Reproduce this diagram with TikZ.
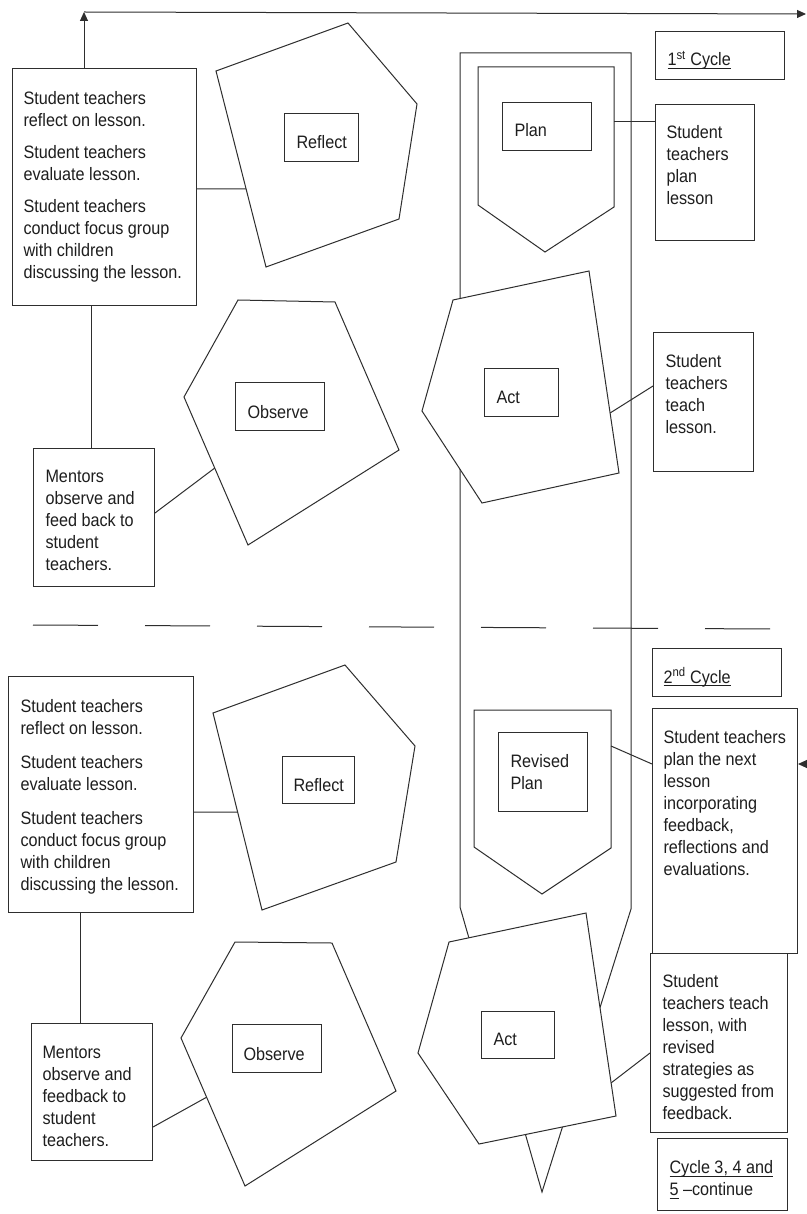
\documentclass[tikz,border=0pt]{standalone}
\usepackage{fontspec}
\setmainfont{Liberation Sans}[FakeStretch=0.9]
\usetikzlibrary{calc,arrows.meta}
\definecolor{ink}{HTML}{2E2E2E}
\definecolor{txtc}{HTML}{1E1E1E}
% underline sitting just below the baseline
\newcommand{\ulx}[1]{\setbox0\hbox{#1}\rlap{\rule[-2.8pt]{\wd0}{0.8pt}}\box0\relax}
\begin{document}
\begin{tikzpicture}[x=1pt,y=-1pt,line width=1pt,color=ink,
  box/.style={draw=ink,rectangle,inner sep=0pt,anchor=north west},
  para/.style={inner sep=0pt,anchor=north west,align=left,text=txtc,
    font=\fontsize{18}{22}\selectfont},
  lbl/.style={inner sep=0pt,anchor=base west,text=txtc,
    font=\fontsize{18}{22}\selectfont},
  poly/.style={draw=ink,fill=white,line join=miter},
  tip/.style={-{Triangle[length=9pt,width=8pt]}}]
\useasboundingbox[fill=white] (0,0) rectangle (806,1214);

% ---- the long pencil that carries the cycles ----
\draw[ink] (460,53) -- (631,53) -- (631,909) -- (542,1192) -- (460,907) -- cycle;

% ---- separator between the cycles ----
\draw[dash pattern=on 65pt off 47pt] (33,625) -- (771,629);

% ================= 1st cycle =================
% Reflect
\coordinate (r1a) at (216,71); \coordinate (r1b) at (348,23);
\coordinate (r1c) at (417,104); \coordinate (r1d) at (399,219);
\coordinate (r1e) at (266,267);
\draw[poly] (r1a) -- (r1b) -- (r1c) -- (r1d) -- (r1e) -- cycle;
\node[box,minimum width=74pt,minimum height=48pt] (lr1) at (284,113) {};
\node[lbl] (lr1t) at (296,149) {Reflect};

% Plan shield
\draw[poly] (478,67) -- (614,67) -- (614,207) -- (545,252) -- (478,205) -- cycle;
\coordinate (pl1) at (614,122);
\node[box,minimum width=89pt,minimum height=48pt] (lp1) at (502,102) {};
\node[lbl] (lp1t) at (514,137) {Plan};

% Observe
\coordinate (o1a) at (184,397); \coordinate (o1b) at (238,300);
\coordinate (o1c) at (335,302); \coordinate (o1d) at (399,450);
\coordinate (o1e) at (248,545);
\draw[poly] (o1a) -- (o1b) -- (o1c) -- (o1d) -- (o1e) -- cycle;
\node[box,minimum width=89pt,minimum height=48pt] (lo1) at (235,382) {};
\node[lbl] (lo1t) at (247,418) {Observe};

% Act
\coordinate (a1a) at (453,300); \coordinate (a1b) at (589,271);
\coordinate (a1c) at (619,473); \coordinate (a1d) at (482,503);
\coordinate (a1e) at (422,411);
\draw[poly] (a1a) -- (a1b) -- (a1c) -- (a1d) -- (a1e) -- cycle;
\node[box,minimum width=74pt,minimum height=48pt] (la1) at (484,368) {};
\node[lbl] (la1t) at (496,403) {Act};

% text boxes
\node[box,minimum width=184pt,minimum height=237pt] (b1) at (12,68) {};
\node[para] (b1t) at (23,91) {Student teachers\\reflect on lesson.\\[10pt]Student teachers\\evaluate lesson.\\[10pt]Student teachers\\conduct focus group\\with children\\discussing the lesson.};

\node[box,minimum width=121pt,minimum height=138pt] (m1) at (33,448) {};
\node[para] (m1t) at (45,470) {Mentors\\observe and\\feed back to\\student\\teachers.};

\node[box,minimum width=129pt,minimum height=48pt] (c1) at (655,31) {};
\node[lbl] (c1t) at (667,66) {\ulx{1\textsuperscript{st} Cycle}};

\node[box,minimum width=99pt,minimum height=136pt] (p1) at (655,104) {};
\node[para] (p1t) at (666,125) {Student\\teachers\\plan\\lesson};

\node[box,minimum width=100pt,minimum height=139pt] (t1) at (653,332) {};
\node[para] (t1t) at (665,354) {Student\\teachers\\teach\\lesson.};

% connectors
\draw (b1.east |- 0,189) -- ($(r1a)!0.602!(r1e)$);
\draw (b1.south -| 91,0) -- (m1.north -| 91,0);
\draw (m1.east |- 0,513) -- ($(o1a)!0.48!(o1e)$);
\draw (pl1) -- (p1.west |- pl1);
\draw ($(a1b)!0.703!(a1c)$) -- (t1.west |- 0,386);

% loop arrow back to the start of the next cycle
\coordinate (corner) at (84,12);
\coordinate (topend) at (806,14);
\draw[tip] (b1.north -| corner) -- (corner);
\draw[tip] (corner) -- (topend);

% ================= 2nd cycle =================
% Reflect
\coordinate (r2a) at (213,713); \coordinate (r2b) at (345,665);
\coordinate (r2c) at (415,746); \coordinate (r2d) at (396,862);
\coordinate (r2e) at (262,910);
\draw[poly] (r2a) -- (r2b) -- (r2c) -- (r2d) -- (r2e) -- cycle;
\node[box,minimum width=72pt,minimum height=47pt] (lr2) at (282,756) {};
\node[lbl] (lr2t) at (293,791) {Reflect};

% Revised plan shield
\draw[poly] (474,710) -- (611,710) -- (611,848) -- (542,894) -- (474,847) -- cycle;
\coordinate (pl2) at (611,746);
\node[box,minimum width=89pt,minimum height=79pt] (lp2) at (498,732) {};
\node[para] (lp2t) at (510,754) {Revised\\Plan};

% Observe
\coordinate (o2a) at (181,1038); \coordinate (o2b) at (235,942);
\coordinate (o2c) at (332,943); \coordinate (o2d) at (396,1091);
\coordinate (o2e) at (245,1186);
\draw[poly] (o2a) -- (o2b) -- (o2c) -- (o2d) -- (o2e) -- cycle;
\node[box,minimum width=89pt,minimum height=48pt] (lo2) at (232,1024) {};
\node[lbl] (lo2t) at (243,1060) {Observe};

% Act
\coordinate (a2a) at (449,942); \coordinate (a2b) at (586,913);
\coordinate (a2c) at (616,1116); \coordinate (a2d) at (479,1144);
\coordinate (a2e) at (418,1053);
\draw[poly] (a2a) -- (a2b) -- (a2c) -- (a2d) -- (a2e) -- cycle;
\node[box,minimum width=73pt,minimum height=47pt] (la2) at (481,1011) {};
\node[lbl] (la2t) at (493,1045) {Act};

% text boxes
\node[box,minimum width=185pt,minimum height=236pt] (b2) at (8,676) {};
\node[para] (b2t) at (20,699) {Student teachers\\reflect on lesson.\\[12pt]Student teachers\\evaluate lesson.\\[12pt]Student teachers\\conduct focus group\\with children\\discussing the lesson.};

\node[box,minimum width=121pt,minimum height=137pt] (m2) at (31,1023) {};
\node[para] (m2t) at (42,1046) {Mentors\\observe and\\feedback to\\student\\teachers.};

\node[box,minimum width=129pt,minimum height=48pt] (c2) at (652,648) {};
\node[lbl] (c2t) at (663,683) {\ulx{2\textsuperscript{nd} Cycle}};

\node[box,minimum width=145pt,minimum height=245pt] (p2) at (652,708) {};
\node[para] (p2t) at (663,730) {Student teachers\\plan the next\\lesson\\incorporating\\feedback,\\reflections and\\evaluations.};

\node[box,minimum width=137pt,minimum height=179pt] (t2) at (650,953) {};
\node[para] (t2t) at (662,974) {Student\\teachers teach\\lesson, with\\revised\\strategies as\\suggested from\\feedback.};

\node[box,minimum width=130pt,minimum height=72pt] (c3) at (657,1138) {};
\node[para] (c3t) at (669,1160) {\ulx{Cycle 3, 4 and}\\\ulx{5} --continue};

% connectors
\draw (b2.east |- 0,812) -- ($(r2a)!0.503!(r2e)$);
\draw (b2.south -| 80,0) -- (m2.north -| 80,0);
\draw (m2.east |- 0,1127) -- ($(o2a)!0.4!(o2e)$);
\draw (pl2) -- (p2.west |- 0,764);
\draw ($(a2b)!0.837!(a2c)$) -- (t2.west |- 0,1053);

% loop arrow coming back in from the right
\coordinate (rin) at (806,764);
\draw[tip] (rin) -- (p2.east |- rin);
\end{tikzpicture}
\end{document}
